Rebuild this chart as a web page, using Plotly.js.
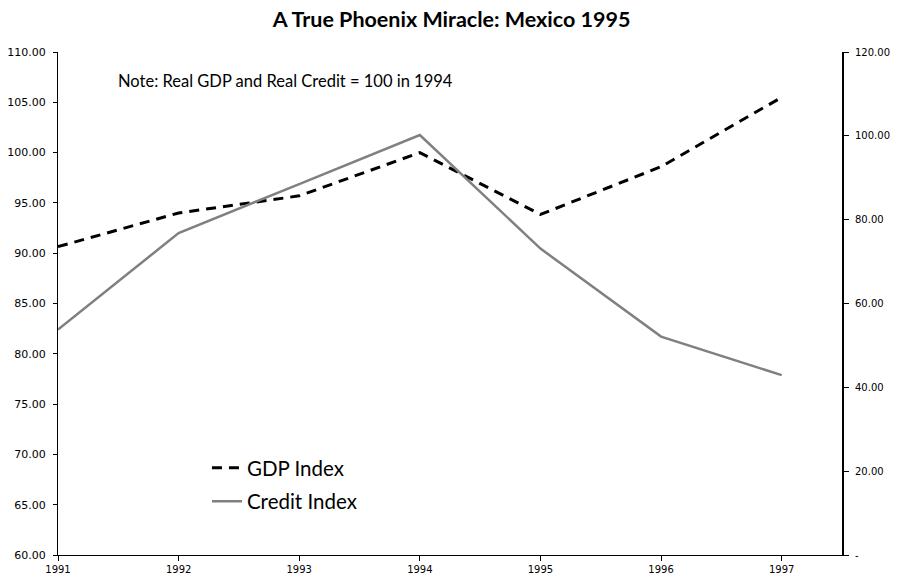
<!DOCTYPE html>
<html>
<head>
<meta charset="utf-8">
<script src="https://cdn.plot.ly/plotly-3.0.1.min.js"></script>
<style>html,body{margin:0;padding:0;background:#fff;}#chart{width:898px;height:577px;}</style>
</head>
<body>
<div id="chart"></div>
<script>
const years = [1991, 1992, 1993, 1994, 1995, 1996, 1997];
const gdpIndex = [90.65, 94.0, 95.7, 100.0, 93.85, 98.6, 105.5];
const creditIndex = [53.8, 76.8, 88.5, 100.2, 73.1, 52.1, 42.9];
const leftTickVals = [60, 65, 70, 75, 80, 85, 90, 95, 100, 105, 110];
const rightTickVals = [0, 20, 40, 60, 80, 100, 120];
const rightTickText = ['-', '20.00', '40.00', '60.00', '80.00', '100.00', '120.00'];
const titleText = 'A True Phoenix Miracle: Mexico 1995';
const noteText = 'Note: Real GDP and Real Credit = 100 in 1994';
const seriesNames = ['GDP Index', 'Credit Index'];

const tickFont = {family: 'DejaVu Sans, Verdana, sans-serif', size: 10, color: '#000'};
const labelFamily = 'Lato, Calibri, Carlito, sans-serif';

const data = [
  {x: years, y: gdpIndex, name: seriesNames[0], type: 'scatter', mode: 'lines', yaxis: 'y',
   legendgroup: 'a', line: {color: '#000000', width: 3, dash: '10px,7px'}},
  {x: years, y: creditIndex, name: seriesNames[1], type: 'scatter', mode: 'lines', yaxis: 'y2',
   legendgroup: 'b', line: {color: '#808080', width: 2.5}}
];

const layout = {
  width: 898, height: 577,
  margin: {l: 58, r: 56, t: 52, b: 22, pad: 0},
  paper_bgcolor: '#ffffff', plot_bgcolor: '#ffffff',
  title: {text: '<b>' + titleText + '</b>', x: 0.502, xref: 'paper', xanchor: 'center',
          y: 0.967, yref: 'container', yanchor: 'middle',
          font: {family: labelFamily, size: 21.5, color: '#000'}},
  xaxis: {range: [1991, 1997.5], tickvals: years, ticks: 'outside', ticklen: 5, tickcolor: '#000',
          showline: true, linecolor: '#000', linewidth: 1, showgrid: false, zeroline: false,
          tickfont: tickFont, fixedrange: true},
  yaxis: {range: [60, 110], tickvals: leftTickVals, tickformat: '.2f', ticks: 'outside', ticklen: 4,
          tickcolor: '#000', showline: true, linecolor: '#000', linewidth: 1, showgrid: false,
          zeroline: false, tickfont: Object.assign({}, tickFont, {size: 11}), ticklabelstandoff: 5},
  yaxis2: {range: [0, 120], overlaying: 'y', side: 'right', tickvals: rightTickVals, ticktext: rightTickText,
           ticks: 'outside', ticklen: 5, tickcolor: '#000', showline: true, linecolor: '#000', linewidth: 2,
           showgrid: false, zeroline: false, tickfont: tickFont, ticklabelstandoff: 4},
  yaxis3: {range: [60, 110], overlaying: 'y', side: 'left', tickvals: leftTickVals, ticks: 'inside', ticklen: 4,
           tickcolor: '#000', showticklabels: false, showline: false, showgrid: false, zeroline: false},
  showlegend: true,
  legend: {x: 0.19, xanchor: 'left', y: 0.213, yanchor: 'top', bgcolor: 'rgba(0,0,0,0)',
           traceorder: 'grouped', tracegroupgap: 4,
           font: {family: labelFamily, size: 20.5, color: '#000'}},
  annotations: [
    {text: noteText, xref: 'paper', yref: 'paper', x: 0.074, y: 0.942, xanchor: 'left', yanchor: 'middle',
     showarrow: false, font: {family: labelFamily, size: 16.5, color: '#000'}}
  ]
};

Plotly.newPlot('chart', data, layout, {displayModeBar: false, staticPlot: true});
</script>
</body>
</html>
